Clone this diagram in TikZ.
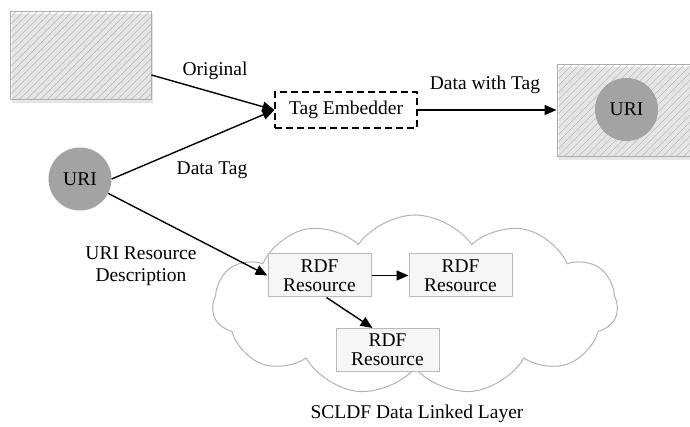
\documentclass[tikz,border=0pt]{standalone}
\usepackage{fontspec}
\setmainfont{Liberation Serif}
\usetikzlibrary{arrows.meta,patterns,shapes.symbols,calc}
\pgfdeclarepatternformonly{widehatch}{\pgfqpoint{-1pt}{-1pt}}{\pgfqpoint{8pt}{8pt}}{\pgfqpoint{7pt}{7pt}}{%
  \pgfsetlinewidth{0.7pt}%
  \pgfpathmoveto{\pgfqpoint{-0.1pt}{-0.1pt}}\pgfpathlineto{\pgfqpoint{7.1pt}{7.1pt}}%
  \pgfusepath{stroke}}
\begin{document}
\begin{tikzpicture}[x=1pt,y=-1pt,
  every node/.style={font=\fontsize{19.5}{21}\selectfont, inner sep=0pt},
  conn/.style={line width=1.4pt, -{Triangle[length=12pt,width=10pt]}},
  hatchbox/.style={draw=gray!65, line width=1pt, pattern=widehatch, pattern color=gray!50},
  shadowbox/.style={fill=gray!20},
  uricirc/.style={circle, fill=gray!72, minimum size=63pt},
  rdfbox/.style={draw=gray!55, fill=gray!7, line width=1pt, minimum width=103pt, minimum height=43pt, align=center},
  embedbox/.style={draw=black, dash pattern=on 7pt off 4pt, line width=1.2pt, fill=white, minimum width=142pt, minimum height=36pt},
  cloudshape/.style={cloud, cloud puffs=11, cloud puff arc=110, cloud ignores aspect, draw=gray!60, line width=1pt, minimum width=405pt, minimum height=180pt},
  lbl/.style={align=center}]
\clip (0,0) rectangle (690,427);
% left hatched data box
\fill[shadowbox] (12,14) rectangle (153,103);
\node[hatchbox, minimum width=141pt, minimum height=88pt] (orig) at (80.5,56) {};
% right hatched data box
\fill[shadowbox] (559,67) rectangle (720,160);
\node[hatchbox, minimum width=163pt, minimum height=92pt] (out) at (638.5,111) {};
\node[uricirc] (uri2) at (626.5,109.5) {URI};
% URI source
\node[uricirc] (uri) at (80,179) {URI};
% tag embedder
\node[embedbox] (te) at (346,110) {Tag Embedder};
% cloud
\node[cloudshape] (cl) at (415,305) {};
\node[rdfbox] (r1) at (319.5,275.5) {RDF\\[-2pt]Resource};
\node[rdfbox] (r2) at (460.5,275.5) {RDF\\[-2pt]Resource};
\node[rdfbox] (r3) at (387.5,350) {RDF\\[-2pt]Resource};
% labels
\node[lbl] (lorig) at (215,71) {Original};
\node[lbl] (ltag) at (212,170) {Data Tag};
\node[lbl] (ldwt) at (485,85) {Data with Tag};
\node[lbl] (lurd) at (141,266) {URI Resource\\[1pt]Description};
\node[lbl] (lcl) at (417,414) {SCLDF Data Linked Layer};
% connectors
\draw[conn] (orig.east |- 0,75) -- (te.west);
\draw[conn] (uri.east) -- (te.west);
\draw[conn] (te.east) -- (te.east -| out.west);
\draw[conn] (uri.-27) -- (r1.west);
\draw[conn] (r1.east) -- (r2.west);
\draw[conn] ($(r1.south)+(7,0)$) -- ($(r3.north)+(-15,0)$);
\end{tikzpicture}
\end{document}
